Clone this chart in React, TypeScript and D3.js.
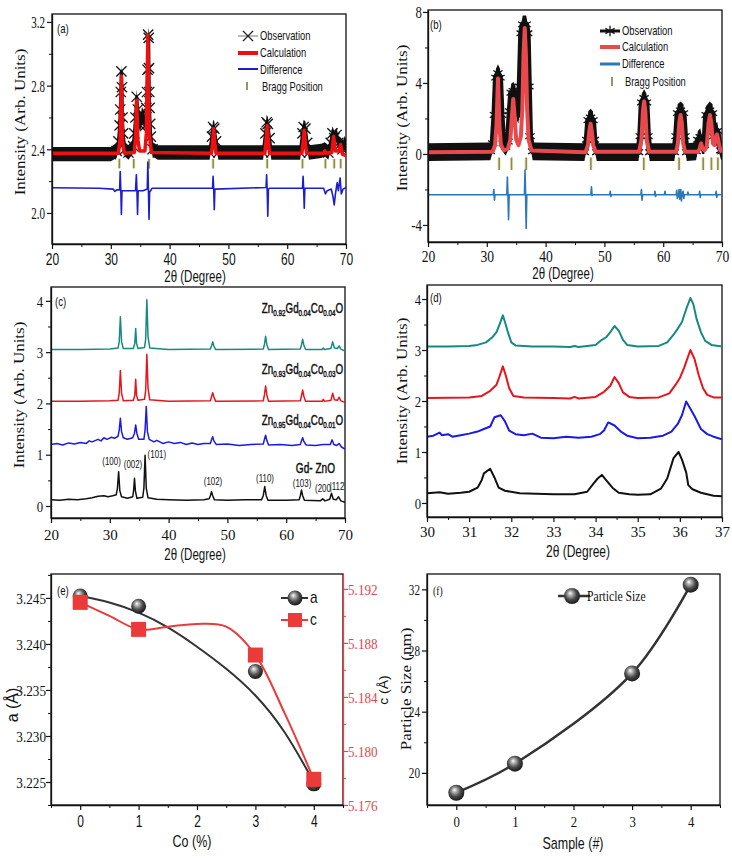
import * as d3 from 'd3'
import { useEffect, useRef } from 'react'

const SERIF = "'Liberation Serif', 'Times New Roman', Times, serif"
const SANS = "'Liberation Sans', Arial, Helvetica, sans-serif"

type P = [number, number]

// ---------- (a) Rietveld fit, Gd-ZnO ----------
const aObs: P[] = [[20,2.37],[30,2.37],[31.0,2.39],[31.3,2.45],[31.5,2.55],[31.6,2.65],[31.7,2.76],[31.8,2.89],[31.9,2.79],[32.0,2.6],[32.1,2.5],[32.4,2.4],[33,2.38],[33.8,2.42],[34.0,2.5],[34.2,2.6],[34.4,2.73],[34.6,2.65],[34.8,2.58],[35.0,2.55],[35.3,2.62],[35.6,2.6],[35.9,2.55],[36.05,2.66],[36.15,2.76],[36.25,2.9],[36.35,3.12],[36.45,3.1],[36.5,2.91],[36.55,2.76],[36.6,2.66],[36.7,2.56],[36.8,2.48],[37.1,2.4],[38,2.38],[46.8,2.38],[47.2,2.48],[47.4,2.54],[47.6,2.53],[47.9,2.45],[48.3,2.38],[55.9,2.38],[56.3,2.5],[56.5,2.57],[56.7,2.56],[57.0,2.47],[57.3,2.38],[62.2,2.38],[62.6,2.5],[62.8,2.54],[63.1,2.53],[63.4,2.44],[63.7,2.38],[65.8,2.39],[66.4,2.4],[67.0,2.38],[67.4,2.44],[67.7,2.5],[68.0,2.47],[68.4,2.49],[68.7,2.44],[69.0,2.43],[69.4,2.4],[69.8,2.44],[70,2.42]]
const aCalc: P[] = [[20,2.375],[31.3,2.375],[31.6,2.47],[31.8,2.86],[32.0,2.45],[32.3,2.375],[34.0,2.38],[34.2,2.47],[34.4,2.71],[34.6,2.46],[34.9,2.39],[35.8,2.39],[36.05,2.5],[36.3,3.12],[36.55,2.5],[36.9,2.38],[47.1,2.375],[47.3,2.43],[47.5,2.53],[47.7,2.43],[47.9,2.375],[56.2,2.375],[56.4,2.45],[56.6,2.55],[56.8,2.45],[57.0,2.375],[62.5,2.375],[62.7,2.44],[62.9,2.52],[63.1,2.44],[63.3,2.375],[66.2,2.375],[66.4,2.39],[66.6,2.375],[67.6,2.38],[67.9,2.48],[68.2,2.39],[68.8,2.39],[69.1,2.43],[69.4,2.37],[70,2.36]]
const aDiff: P[] = [[20,2.158],[28,2.155],[30.4,2.15],[30.7,2.135],[31.0,2.145],[31.5,2.145],[31.6,2.26],[31.7,2.15],[31.8,1.99],[31.9,2.14],[34.2,2.14],[34.35,2.24],[34.45,2.14],[34.55,1.99],[34.65,2.14],[35.5,2.14],[36.2,2.15],[36.3,2.32],[36.4,2.14],[36.5,1.96],[36.6,2.13],[37,2.155],[47.3,2.155],[47.4,2.23],[47.5,2.15],[47.6,2.02],[47.7,2.15],[56.4,2.16],[56.5,2.24],[56.6,2.14],[56.7,1.98],[56.8,2.15],[57,2.155],[62.6,2.155],[62.7,2.23],[62.8,2.15],[62.9,2.03],[63.0,2.155],[66.2,2.155],[66.5,2.12],[66.8,2.14],[67.5,2.15],[67.8,2.1],[68.0,2.05],[68.2,2.12],[68.5,2.19],[68.7,2.14],[69.0,2.22],[69.2,2.12],[69.5,2.15],[70,2.16]]
const aBragg = [31.45, 33.9, 36.5, 47.4, 56.6, 62.6, 66.5, 68.0, 69.1]

// ---------- (b) Rietveld fit, Co doped ----------
const bObs: P[] = [[20,0.1],[30.6,0.15],[31.0,0.6],[31.3,2.2],[31.55,4.3],[31.9,4.55],[32.25,4.3],[32.5,2.2],[32.8,0.6],[33.2,0.4],[33.6,0.7],[33.9,2.4],[34.15,3.45],[34.5,3.55],[34.85,3.4],[35.1,2.4],[35.4,2.2],[35.6,3.8],[35.85,6.8],[36.1,7.3],[36.7,7.3],[36.95,6.8],[37.15,3.8],[37.35,1.0],[37.8,0.15],[46.6,0.1],[47.0,0.8],[47.25,1.9],[47.65,2.05],[48.05,1.9],[48.3,0.8],[48.7,0.1],[55.8,0.1],[56.1,1.0],[56.35,2.9],[56.75,3.15],[57.15,2.9],[57.4,1.0],[57.7,0.1],[61.9,0.1],[62.2,1.0],[62.45,2.3],[62.95,2.45],[63.45,2.3],[63.7,1.0],[64.0,0.1],[65.6,0.15],[65.9,0.8],[66.3,0.95],[66.6,0.5],[67.0,0.5],[67.3,2.2],[67.9,2.45],[68.4,2.3],[68.6,1.0],[68.8,1.2],[69.2,1.3],[69.5,0.6],[69.8,0.2],[70,0.15]]
const bCalc: P[] = [[20,0.1],[31.0,0.12],[31.4,0.5],[31.65,1.6],[31.9,4.25],[32.15,1.6],[32.4,0.5],[32.9,0.2],[33.6,0.3],[34.0,0.8],[34.25,2.0],[34.5,3.1],[34.75,2.0],[35.0,0.8],[35.4,0.5],[35.8,1.0],[36.05,2.6],[36.25,5.6],[36.45,7.1],[36.65,5.6],[36.85,2.6],[37.1,0.8],[37.6,0.2],[46.8,0.1],[47.2,0.5],[47.45,1.3],[47.65,1.7],[47.85,1.3],[48.1,0.5],[48.5,0.12],[55.9,0.12],[56.3,0.8],[56.55,2.4],[56.75,2.95],[56.95,2.4],[57.2,0.8],[57.6,0.12],[62.2,0.12],[62.5,0.6],[62.75,1.8],[62.95,2.2],[63.15,1.8],[63.4,0.6],[63.7,0.12],[65.9,0.12],[66.2,0.3],[66.45,0.6],[66.7,0.3],[67.0,0.2],[67.4,0.4],[67.7,1.7],[67.95,2.2],[68.2,1.7],[68.45,0.6],[68.7,0.5],[68.95,0.9],[69.15,1.1],[69.35,0.8],[69.7,0.2],[70,0.1]]
const bDiff: P[] = [[20,-2.3],[31.1,-2.3],[31.2,-2.0],[31.3,-2.6],[31.4,-2.3],[33.4,-2.3],[33.5,-1.3],[33.6,-2.3],[33.7,-3.7],[33.8,-2.3],[36.4,-2.3],[36.5,-0.9],[36.6,-2.3],[36.7,-4.2],[36.8,-2.3],[47.7,-2.3],[47.8,-1.85],[47.9,-2.35],[48.0,-2.3],[50.9,-2.3],[51.0,-2.1],[51.1,-2.4],[51.2,-2.3],[56.2,-2.3],[56.3,-2.0],[56.4,-2.6],[56.5,-2.3],[58.5,-2.3],[58.6,-2.1],[58.7,-2.4],[58.8,-2.3],[60.2,-2.3],[60.3,-2.1],[60.4,-2.3],[62.2,-2.3],[62.3,-2.05],[62.4,-2.5],[62.6,-2.3],[62.7,-2.0],[62.8,-2.55],[62.9,-2.3],[63.0,-2.0],[63.1,-2.65],[63.2,-2.3],[63.4,-2.1],[63.5,-2.5],[63.6,-2.3],[64.1,-2.3],[64.2,-2.15],[64.3,-2.3],[66.1,-2.3],[66.2,-2.1],[66.3,-2.45],[66.4,-2.3],[68.9,-2.3],[69.0,-2.1],[69.1,-2.45],[69.2,-2.3],[70,-2.3]]
const bBragg = [32.1, 34.2, 36.7, 47.7, 56.7, 62.7, 66.8, 68.2, 69.3]

// ---------- (c) XRD patterns ----------
const cTeal: P[] = [[20,3.05],[25,3.05],[30,3.06],[31.4,3.08],[31.6,3.2],[31.8,3.69],[32.0,3.2],[32.3,3.07],[34.0,3.07],[34.25,3.17],[34.4,3.46],[34.55,3.17],[34.8,3.07],[35.9,3.09],[36.1,3.25],[36.3,4.02],[36.5,3.3],[36.8,3.08],[40,3.05],[47.1,3.06],[47.3,3.12],[47.5,3.2],[47.7,3.12],[48,3.05],[56.1,3.06],[56.3,3.15],[56.5,3.31],[56.7,3.15],[57,3.05],[62.4,3.06],[62.6,3.14],[62.8,3.25],[63,3.14],[63.3,3.05],[66.1,3.05],[66.3,3.08],[66.5,3.05],[67.6,3.07],[67.9,3.2],[68.2,3.08],[68.7,3.07],[69,3.12],[69.3,3.06],[70,3.02]]
const cRed: P[] = [[20,2.04],[25,2.04],[30,2.05],[31.4,2.06],[31.6,2.2],[31.8,2.64],[32.0,2.2],[32.3,2.05],[34.0,2.06],[34.25,2.16],[34.4,2.47],[34.55,2.16],[34.8,2.06],[35.9,2.08],[36.1,2.25],[36.3,2.96],[36.5,2.3],[36.8,2.07],[40,2.04],[47.1,2.05],[47.3,2.13],[47.5,2.21],[47.7,2.13],[48,2.04],[56.1,2.05],[56.3,2.17],[56.5,2.34],[56.7,2.17],[57,2.04],[62.4,2.05],[62.6,2.15],[62.8,2.26],[63,2.14],[63.3,2.04],[66.1,2.04],[66.3,2.08],[66.5,2.04],[67.6,2.06],[67.9,2.2],[68.2,2.07],[68.7,2.06],[69,2.12],[69.3,2.05],[70,2.02]]
const cBlue: P[] = [[20,1.2],[21,1.22],[22,1.19],[23,1.23],[24,1.21],[25,1.24],[26,1.22],[26.5,1.27],[27,1.25],[28,1.3],[28.5,1.27],[29,1.33],[29.5,1.3],[30.3,1.34],[30.8,1.32],[31.4,1.36],[31.6,1.48],[31.8,1.71],[32.0,1.45],[32.3,1.33],[33,1.3],[33.9,1.33],[34.2,1.42],[34.4,1.58],[34.6,1.42],[34.9,1.3],[35.8,1.3],[36.0,1.48],[36.2,1.94],[36.4,1.45],[36.7,1.3],[37.5,1.25],[38,1.28],[39,1.22],[40,1.25],[41,1.22],[42,1.24],[43,1.2],[44,1.23],[45,1.2],[46,1.22],[47.1,1.22],[47.3,1.29],[47.5,1.35],[47.7,1.27],[48.1,1.2],[50,1.21],[52,1.18],[54,1.2],[56.1,1.21],[56.3,1.3],[56.5,1.38],[56.7,1.28],[57,1.19],[59,1.2],[61,1.18],[62.4,1.2],[62.6,1.27],[62.8,1.33],[63,1.26],[63.4,1.19],[65,1.18],[66.3,1.2],[67.5,1.2],[67.8,1.29],[68.1,1.2],[68.6,1.18],[69,1.22],[69.4,1.15],[70,1.11]]
const cBlack: P[] = [[20,0.12],[21.5,0.11],[23,0.13],[24.5,0.12],[26,0.14],[27,0.16],[28,0.19],[29,0.2],[29.7,0.18],[30.5,0.2],[31.1,0.22],[31.3,0.35],[31.5,0.67],[31.7,0.3],[32.0,0.18],[33,0.15],[33.9,0.18],[34.05,0.3],[34.2,0.54],[34.35,0.3],[34.6,0.15],[35.6,0.17],[35.8,0.35],[36.0,0.99],[36.2,0.35],[36.5,0.16],[38,0.13],[40,0.12],[43,0.11],[46,0.12],[46.9,0.14],[47.1,0.2],[47.3,0.28],[47.5,0.2],[47.8,0.12],[50,0.11],[53,0.12],[55.8,0.12],[56.1,0.2],[56.35,0.38],[56.6,0.2],[56.9,0.11],[60,0.11],[62.2,0.12],[62.4,0.2],[62.6,0.31],[62.8,0.2],[63.1,0.11],[65.8,0.1],[66.2,0.14],[66.6,0.1],[67.4,0.13],[67.7,0.25],[68.0,0.13],[68.5,0.12],[68.9,0.18],[69.3,0.1],[70,0.07]]
const cSubs = [['0.92', '0.04', '0.04'], ['0.93', '0.04', '0.03'], ['0.95', '0.04', '0.01']]
const cSubY = [3.77, 2.58, 1.58]
const hkl: [string, number, number, string][] = [['(100)', 30.3, 0.8, 'middle'], ['(002)', 33.95, 0.74, 'middle'], ['(101)', 38.0, 0.94, 'middle'], ['(102)', 47.55, 0.41, 'middle'], ['(110)', 56.4, 0.47, 'middle'], ['(103)', 62.7, 0.37, 'middle'], ['(200', 67.6, 0.27, 'end'], ['|112', 67.4, 0.31, 'start']]

// ---------- (d) zoomed XRD ----------
const dTeal: P[] = [[30,3.07],[30.5,3.07],[31,3.08],[31.2,3.1],[31.4,3.15],[31.55,3.25],[31.65,3.35],[31.72,3.5],[31.8,3.68],[31.85,3.55],[31.92,3.35],[32.0,3.15],[32.1,3.09],[32.5,3.07],[33,3.07],[33.4,3.06],[33.5,3.08],[33.6,3.06],[34,3.1],[34.15,3.2],[34.25,3.25],[34.35,3.35],[34.45,3.47],[34.55,3.38],[34.65,3.2],[34.75,3.1],[35,3.07],[35.5,3.08],[35.7,3.15],[35.85,3.3],[35.95,3.42],[36.05,3.55],[36.15,3.8],[36.25,4.02],[36.32,3.9],[36.4,3.6],[36.5,3.35],[36.6,3.18],[36.75,3.1],[37,3.07]]
const dRed: P[] = [[30,2.06],[31,2.07],[31.3,2.1],[31.5,2.2],[31.65,2.32],[31.72,2.48],[31.8,2.68],[31.87,2.5],[31.95,2.25],[32.05,2.1],[32.3,2.07],[33,2.06],[33.4,2.05],[33.5,2.08],[33.6,2.05],[34,2.08],[34.2,2.18],[34.35,2.3],[34.45,2.47],[34.55,2.35],[34.65,2.17],[34.8,2.08],[35,2.06],[35.5,2.07],[35.75,2.15],[35.9,2.32],[36.0,2.45],[36.1,2.65],[36.25,3.0],[36.35,2.82],[36.45,2.5],[36.55,2.25],[36.65,2.12],[36.8,2.07],[37,2.07]]
const dBlue: P[] = [[30,1.3],[30.15,1.32],[30.3,1.38],[30.35,1.33],[30.5,1.35],[30.6,1.3],[30.8,1.33],[31,1.36],[31.2,1.4],[31.35,1.45],[31.5,1.5],[31.6,1.68],[31.75,1.72],[31.85,1.6],[31.95,1.42],[32.1,1.35],[32.3,1.33],[32.5,1.36],[32.7,1.28],[33,1.27],[33.3,1.3],[33.6,1.28],[33.9,1.3],[34.1,1.35],[34.2,1.42],[34.3,1.58],[34.45,1.52],[34.6,1.4],[34.75,1.32],[35,1.27],[35.3,1.28],[35.6,1.32],[35.8,1.4],[35.95,1.55],[36.05,1.72],[36.15,1.99],[36.25,1.85],[36.35,1.7],[36.5,1.45],[36.65,1.35],[36.8,1.3],[37,1.25]]
const dBlack: P[] = [[30,0.19],[30.3,0.21],[30.5,0.18],[30.8,0.2],[31,0.22],[31.2,0.3],[31.3,0.45],[31.35,0.58],[31.5,0.67],[31.6,0.5],[31.7,0.3],[31.85,0.24],[32.2,0.19],[32.6,0.18],[33,0.17],[33.5,0.17],[33.8,0.22],[33.95,0.38],[34.05,0.48],[34.15,0.55],[34.25,0.45],[34.4,0.3],[34.55,0.2],[34.8,0.17],[35,0.16],[35.3,0.17],[35.55,0.28],[35.7,0.48],[35.85,0.88],[35.97,1.0],[36.05,0.85],[36.15,0.6],[36.2,0.35],[36.3,0.27],[36.5,0.2],[36.8,0.14],[37,0.13]]

// ---------- (e) lattice parameters ----------
const coPct = [0, 1, 3, 4]
const latA = [3.2452, 3.2441, 3.237, 3.2248]
const latC = [5.191, 5.189, 5.1871, 5.1779]
const fitX = [0, 0.5, 1, 1.5, 2, 2.5, 3, 3.5, 4]
const latAFit = [3.2452, 3.2445, 3.2434, 3.2418, 3.2397, 3.2373, 3.2344, 3.2304, 3.2250]
const latCFit = [5.1910, 5.1900, 5.1890, 5.1892, 5.1894, 5.1892, 5.1871, 5.1828, 5.1779]

// ---------- (f) particle size ----------
const sampleNo = [0, 1, 3, 4]
const particle = [18.7, 20.6, 26.5, 32.3]

type Sel = d3.Selection<any, any, any, any>
interface TxtOpt { size?: number; font?: string; sx?: number; sy?: number; anchor?: string; rot?: number; fill?: string; weight?: string | number; bold?: boolean }

function txt(g: Sel, x: number, y: number, s: string, o: TxtOpt = {}) {
  const t = g.append('text')
    .attr('transform', `translate(${x},${y})${o.rot ? ` rotate(${o.rot})` : ''} scale(${o.sx ?? 1},${o.sy ?? 1})`)
    .attr('font-family', o.font ?? SANS)
    .attr('font-size', o.size ?? 12)
    .attr('text-anchor', o.anchor ?? 'start')
    .attr('fill', o.fill ?? '#111')
    .attr('font-weight', o.weight ?? 'normal')
    .text(s)
  if (o.bold) t.attr('stroke', o.fill ?? '#111').attr('stroke-width', 0.45)
  return t
}

interface AxOpt { font: string; size: number; sx?: number; off: number; color?: string; fmt?: (d: number) => string }

function axis(g: Sel, scale: any, side: 'left' | 'right' | 'bottom', at: number, major: number[], minor: number[], o: AxOpt) {
  const gen = side === 'left' ? d3.axisLeft : side === 'right' ? d3.axisRight : d3.axisBottom
  const tr = side === 'bottom' ? `translate(0,${at})` : `translate(${at},0)`
  const color = o.color ?? '#111'
  const mn = g.append('g').attr('transform', tr)
    .call(gen(scale).tickValues(minor).tickSize(3).tickSizeOuter(0).tickFormat(() => ''))
  mn.select('.domain').remove()
  mn.selectAll('line').attr('stroke', color)
  const mj = g.append('g').attr('transform', tr)
    .call(gen(scale).tickValues(major).tickSize(5).tickSizeOuter(0).tickFormat((d: any) => (o.fmt ? o.fmt(d) : String(d))))
  mj.select('.domain').attr('stroke', color).attr('stroke-width', 1.3)
  mj.selectAll('line').attr('stroke', color).attr('stroke-width', 1.2)
  const sx = o.sx ?? 1
  const t = side === 'bottom' ? `translate(0,${o.off})`
    : side === 'left' ? `translate(${-o.off},${o.size * 0.35})` : `translate(${o.off},${o.size * 0.35})`
  mj.selectAll('text').attr('x', null).attr('y', null).attr('dy', null)
    .attr('fill', color).attr('font-family', o.font).attr('font-size', o.size)
    .attr('transform', `${t} scale(${sx},1)`)
}

function frame(g: Sel, defs: Sel, id: string, x: any, y: any) {
  const [x0, x1] = x.range()
  const [y0, y1] = y.range()
  g.append('rect').attr('x', x0).attr('y', y1).attr('width', x1 - x0).attr('height', y0 - y1)
    .attr('fill', 'none').attr('stroke', '#111').attr('stroke-width', 1.3)
  defs.append('clipPath').attr('id', id).append('rect')
    .attr('x', x0).attr('y', y1).attr('width', x1 - x0).attr('height', y0 - y1)
  return g.append('g').attr('clip-path', `url(#${id})`)
}

function pathLine(g: Sel, x: any, y: any, data: P[], color: string, w: number) {
  const line = d3.line<P>().x(d => x(d[0])).y(d => y(d[1]))
  return g.append('path').attr('d', line(data)).attr('fill', 'none').attr('stroke', color)
    .attr('stroke-width', w).attr('stroke-linejoin', 'round')
}

// thick scatter band of the observed points (noise envelope around the observed profile)
function obsBand(g: Sel, x: any, y: any, data: P[], half: number) {
  const area = d3.area<P>().x(d => x(d[0])).y0(d => y(d[1] - half)).y1(d => y(d[1] + half))
  g.append('path').attr('d', area(data)).attr('fill', '#111')
}

function xrdTitle(g: Sel, x: number, y: number, sx: number) {
  txt(g, x, y, '2θ (Degree)', { size: 16, sx, anchor: 'middle' })
}

export default function App() {
  const ref = useRef<SVGSVGElement>(null)

  useEffect(() => {
    document.body.style.margin = '0'
    const svg = d3.select(ref.current)
    svg.selectAll('*').remove()
    svg.append('rect').attr('width', 732).attr('height', 859).attr('fill', '#fff')
    const defs = svg.append('defs')
    const grad = defs.append('radialGradient').attr('id', 'sph')
      .attr('cx', '45%').attr('cy', '42%').attr('r', '60%').attr('fx', '38%').attr('fy', '32%')
    grad.append('stop').attr('offset', '0%').attr('stop-color', '#ffffff')
    grad.append('stop').attr('offset', '22%').attr('stop-color', '#b5b5b5')
    grad.append('stop').attr('offset', '60%').attr('stop-color', '#4a4a4a')
    grad.append('stop').attr('offset', '100%').attr('stop-color', '#151515')

    const times = d3.symbol(d3.symbolTimes, 70)()
    const aster = d3.symbol(d3.symbolAsterisk, 80)()
    const braggCol = '#8a8a58'

    // ===== (a) =====
    {
      const g = svg.append('g')
      const x = d3.scaleLinear().domain([20, 70]).range([52, 346])
      const y = d3.scaleLinear().domain([1.805, 3.25]).range([244, 14])
      const c = frame(g, defs, 'clipA', x, y)
      obsBand(c, x, y, aObs, 0.045)
      pathLine(c, x, y, aObs, '#111', 3)
      c.selectAll('.mk').data(aObs).join('path')
        .attr('transform', d => `translate(${x(d[0])},${y(d[1])})`).attr('d', times)
        .attr('fill', 'none').attr('stroke', '#111').attr('stroke-width', 1.3)
      pathLine(c, x, y, aCalc, '#ee1010', 3.5)
      c.selectAll('.bg').data(aBragg).join('line')
        .attr('x1', d => x(d)).attr('x2', d => x(d)).attr('y1', y(2.34)).attr('y2', y(2.28))
        .attr('stroke', '#f2ecc0').attr('stroke-width', 3.5)
      c.selectAll('.bt').data(aBragg).join('line')
        .attr('x1', d => x(d)).attr('x2', d => x(d)).attr('y1', y(2.34)).attr('y2', y(2.28))
        .attr('stroke', braggCol).attr('stroke-width', 1.6)
      pathLine(c, x, y, aDiff, '#1c1cd0', 1.6)
      axis(g, y, 'left', 52, [2.0, 2.4, 2.8, 3.2], [2.2, 2.6, 3.0], { font: SERIF, size: 17, sx: 0.65, off: 7, fmt: d => d.toFixed(1) })
      axis(g, x, 'bottom', 244, [20, 30, 40, 50, 60, 70], [25, 35, 45, 55, 65], { font: SANS, size: 16, sx: 0.75, off: 21 })
      txt(g, 25, 122, 'Intensity (Arb. Units)', { font: SERIF, size: 17, rot: -90, sy: 0.8, anchor: 'middle' })
      xrdTitle(g, 195, 282, 0.72)
      txt(g, 57, 33, '(a)', { size: 12, sx: 0.8 })
      // legend
      const lg = g.append('g')
      lg.append('line').attr('x1', 238).attr('x2', 258).attr('y1', 36).attr('y2', 36).attr('stroke', '#777').attr('stroke-width', 1)
      lg.append('path').attr('transform', 'translate(248,36)').attr('d', times).attr('fill', 'none').attr('stroke', '#111').attr('stroke-width', 1.3)
      lg.append('line').attr('x1', 238).attr('x2', 258).attr('y1', 53).attr('y2', 53).attr('stroke', '#ee1010').attr('stroke-width', 4)
      lg.append('line').attr('x1', 238).attr('x2', 258).attr('y1', 69).attr('y2', 69).attr('stroke', '#1c1cd0').attr('stroke-width', 2)
      lg.append('line').attr('x1', 247).attr('x2', 247).attr('y1', 82).attr('y2', 90).attr('stroke', braggCol).attr('stroke-width', 1.8)
      txt(lg, 260, 40, 'Observation', { size: 13, sx: 0.72 })
      txt(lg, 260, 57, 'Calculation', { size: 13, sx: 0.72 })
      txt(lg, 260, 74, 'Difference', { size: 13, sx: 0.72 })
      txt(lg, 262, 91, 'Bragg Position', { size: 13, sx: 0.72 })
    }

    // ===== (b) =====
    {
      const g = svg.append('g')
      const x = d3.scaleLinear().domain([20, 70]).range([428, 722])
      const y = d3.scaleLinear().domain([-4.96, 8.11]).range([242, 10])
      const c = frame(g, defs, 'clipB', x, y)
      obsBand(c, x, y, bObs, 0.5)
      pathLine(c, x, y, bObs, '#111', 6)
      c.selectAll('.mk').data(bObs).join('path')
        .attr('transform', d => `translate(${x(d[0])},${y(d[1])})`).attr('d', aster)
        .attr('fill', 'none').attr('stroke', '#111').attr('stroke-width', 1.3)
      pathLine(c, x, y, bCalc, '#e8494c', 4)
      c.selectAll('.bg').data(bBragg).join('line')
        .attr('x1', d => x(d)).attr('x2', d => x(d)).attr('y1', y(-0.2)).attr('y2', y(-0.9))
        .attr('stroke', '#f2ecc0').attr('stroke-width', 3.5)
      c.selectAll('.bt').data(bBragg).join('line')
        .attr('x1', d => x(d)).attr('x2', d => x(d)).attr('y1', y(-0.2)).attr('y2', y(-0.9))
        .attr('stroke', braggCol).attr('stroke-width', 1.6)
      pathLine(c, x, y, bDiff, '#2a78b8', 1.6)
      axis(g, y, 'left', 428, [-4, 0, 4, 8], [-2, 2, 6], { font: SERIF, size: 16, sx: 0.8, off: 6, fmt: d => (d < 0 ? '-' + Math.abs(d) : String(d)) })
      axis(g, x, 'bottom', 242, [20, 30, 40, 50, 60, 70], [25, 35, 45, 55, 65], { font: SERIF, size: 16, sx: 0.85, off: 20 })
      txt(g, 407, 118, 'Intensity (Arb. Units)', { font: SERIF, size: 17, rot: -90, sy: 0.8, anchor: 'middle' })
      xrdTitle(g, 563, 279, 0.72)
      txt(g, 430, 29, '(b)', { size: 12, sx: 0.8 })
      const lg = g.append('g')
      lg.append('line').attr('x1', 600).attr('x2', 620).attr('y1', 31).attr('y2', 31).attr('stroke', '#111').attr('stroke-width', 3)
      lg.append('path').attr('transform', 'translate(610,31)').attr('d', aster).attr('fill', 'none').attr('stroke', '#111').attr('stroke-width', 1.3)
      lg.append('line').attr('x1', 600).attr('x2', 620).attr('y1', 47).attr('y2', 47).attr('stroke', '#e8494c').attr('stroke-width', 4)
      lg.append('line').attr('x1', 600).attr('x2', 620).attr('y1', 64).attr('y2', 64).attr('stroke', '#2a78b8').attr('stroke-width', 3)
      lg.append('line').attr('x1', 612).attr('x2', 612).attr('y1', 77).attr('y2', 86).attr('stroke', braggCol).attr('stroke-width', 1.8)
      txt(lg, 622, 35, 'Observation', { size: 13, sx: 0.72 })
      txt(lg, 622, 51, 'Calculation', { size: 13, sx: 0.72 })
      txt(lg, 622, 68, 'Difference', { size: 13, sx: 0.72 })
      txt(lg, 625, 86, 'Bragg Position', { size: 13, sx: 0.72 })
    }

    // ===== (c) =====
    {
      const g = svg.append('g')
      const x = d3.scaleLinear().domain([20, 70]).range([51, 345])
      const y = d3.scaleLinear().domain([-0.234, 4.27]).range([518, 287])
      const c = frame(g, defs, 'clipC', x, y)
      pathLine(c, x, y, cBlack, '#111', 1.5)
      pathLine(c, x, y, cBlue, '#1a1ae6', 1.5)
      pathLine(c, x, y, cRed, '#e8141c', 1.5)
      pathLine(c, x, y, cTeal, '#168a80', 1.5)
      axis(g, y, 'left', 51, [0, 1, 2, 3, 4], [0.5, 1.5, 2.5, 3.5], { font: SERIF, size: 15, sx: 0.85, off: 8 })
      axis(g, x, 'bottom', 518, [20, 30, 40, 50, 60, 70], [25, 35, 45, 55, 65], { font: SERIF, size: 15, sx: 1, off: 22 })
      txt(g, 24, 395, 'Intensity (Arb. Units)', { font: SERIF, size: 17, rot: -90, sy: 0.8, anchor: 'middle' })
      xrdTitle(g, 195, 560, 0.72)
      txt(g, 55, 306, '(c)', { size: 12, sx: 0.8 })
      cSubs.forEach((s, i) => {
        const t = g.append('text')
          .attr('transform', `translate(${x(69.7)},${y(cSubY[i])}) scale(0.7,1)`)
          .attr('font-family', SANS).attr('font-size', 14)
          .attr('stroke', '#111').attr('stroke-width', 0.45)
          .attr('text-anchor', 'end').attr('fill', '#111')
        const parts = ['Zn', s[0], 'Gd', s[1], 'Co', s[2], 'O']
        parts.forEach((p, k) => {
          const sub = k % 2 === 1
          t.append('tspan').attr('font-size', sub ? 9 : 14)
            .attr('dy', k === 0 ? 0 : sub ? 3 : -3).text(p)
        })
      })
      txt(g, x(68.3), y(0.64), 'Gd- ZnO', { size: 14, sx: 0.72, anchor: 'end', bold: true })
      hkl.forEach(([s, hx, hy, anc]) => txt(g, x(hx), y(hy), s, { size: 11, sx: 0.72, anchor: anc }))
    }

    // ===== (d) =====
    {
      const g = svg.append('g')
      const x = d3.scaleLinear().domain([30, 37]).range([427, 722])
      const y = d3.scaleLinear().domain([-0.275, 4.275]).range([517, 285])
      const c = frame(g, defs, 'clipD', x, y)
      pathLine(c, x, y, dBlack, '#111', 2)
      pathLine(c, x, y, dBlue, '#1a1ae6', 2)
      pathLine(c, x, y, dRed, '#e8141c', 2)
      pathLine(c, x, y, dTeal, '#168a80', 2)
      axis(g, y, 'left', 427, [0, 1, 2, 3, 4], [0.5, 1.5, 2.5, 3.5], { font: SERIF, size: 15, sx: 0.85, off: 6 })
      axis(g, x, 'bottom', 517, [30, 31, 32, 33, 34, 35, 36, 37], [30.5, 31.5, 32.5, 33.5, 34.5, 35.5, 36.5], { font: SERIF, size: 15, sx: 1, off: 20 })
      txt(g, 407, 391, 'Intensity (Arb. Units)', { font: SERIF, size: 17, rot: -90, sy: 0.8, anchor: 'middle' })
      xrdTitle(g, 578, 557, 0.75)
      txt(g, 430, 302, '(d)', { size: 12, sx: 0.8 })
    }

    // ===== (e) =====
    {
      const g = svg.append('g')
      const x = d3.scaleLinear().domain([-0.5, 4.5]).range([51, 343])
      const yl = d3.scaleLinear().domain([3.2225, 3.2476]).range([805, 574])
      const yr = d3.scaleLinear().domain([5.176, 5.1931]).range([805, 574])
      const c = frame(g, defs, 'clipE', x, yl)
      const redC = '#ea3a3a'
      const lineA = d3.line<number>().x((_, i) => x(fitX[i])).y(d => yl(d)).curve(d3.curveNatural)
      const lineC = d3.line<number>().x((_, i) => x(fitX[i])).y(d => yr(d)).curve(d3.curveCatmullRom)
      c.append('path').attr('d', lineA(latAFit)).attr('fill', 'none').attr('stroke', '#333').attr('stroke-width', 2)
      c.append('path').attr('d', lineC(latCFit)).attr('fill', 'none').attr('stroke', redC).attr('stroke-width', 2)
      g.selectAll('.sa').data(latA).join('circle')
        .attr('cx', (_, i) => x(coPct[i])).attr('cy', d => yl(d)).attr('r', 7.5).attr('fill', 'url(#sph)')
      g.selectAll('.sc').data(latC).join('rect')
        .attr('x', (_, i) => x(coPct[i]) - 7.5).attr('y', d => yr(d) - 7.5).attr('width', 15).attr('height', 15).attr('fill', redC)
      axis(g, yl, 'left', 51, [3.225, 3.23, 3.235, 3.24, 3.245], [3.2225, 3.2275, 3.2325, 3.2375, 3.2425, 3.2475], { font: SERIF, size: 15, sx: 0.88, off: 5, fmt: d => d.toFixed(3) })
      axis(g, yr, 'right', 343, [5.176, 5.18, 5.184, 5.188, 5.192], [5.178, 5.182, 5.186, 5.19], { font: SERIF, size: 15, sx: 0.88, off: 5, color: '#e0474c', fmt: d => d.toFixed(3) })
      axis(g, x, 'bottom', 805, [0, 1, 2, 3, 4], [-0.5, 0.5, 1.5, 2.5, 3.5, 4.5], { font: SANS, size: 16, sx: 0.75, off: 22 })
      txt(g, 18, 705, 'a (Å)', { size: 16, rot: -90, anchor: 'middle' })
      txt(g, 388, 690, 'c (Å)', { size: 14, rot: -90, anchor: 'middle', sy: 0.85 })
      txt(g, 192, 847, 'Co (%)', { size: 16, sx: 0.78, anchor: 'middle' })
      txt(g, 57, 595, '(e)', { size: 12, sx: 0.8 })
      g.append('line').attr('x1', 281).attr('x2', 308).attr('y1', 598).attr('y2', 598).attr('stroke', '#333').attr('stroke-width', 2)
      g.append('circle').attr('cx', 295).attr('cy', 598).attr('r', 7.5).attr('fill', 'url(#sph)')
      g.append('line').attr('x1', 281).attr('x2', 308).attr('y1', 620).attr('y2', 620).attr('stroke', redC).attr('stroke-width', 2)
      g.append('rect').attr('x', 288).attr('y', 613).attr('width', 14).attr('height', 14).attr('fill', redC)
      txt(g, 310, 603, 'a', { size: 16, sx: 0.85 })
      txt(g, 310, 625, 'c', { size: 16, sx: 0.85 })
    }

    // ===== (f) =====
    {
      const g = svg.append('g')
      const x = d3.scaleLinear().domain([-0.5, 4.5]).range([427, 720])
      const y = d3.scaleLinear().domain([17.9, 33]).range([805, 574])
      const c = frame(g, defs, 'clipF', x, y)
      const line = d3.line<number>().x((_, i) => x(sampleNo[i])).y(d => y(d)).curve(d3.curveCatmullRom)
      c.append('path').attr('d', line(particle)).attr('fill', 'none').attr('stroke', '#333').attr('stroke-width', 2.5)
      g.selectAll('.sp').data(particle).join('circle')
        .attr('cx', (_, i) => x(sampleNo[i])).attr('cy', d => y(d)).attr('r', 8).attr('fill', 'url(#sph)')
      axis(g, y, 'left', 427, [20, 24, 28, 32], [22, 26, 30], { font: SERIF, size: 14, sx: 0.8, off: 7 })
      axis(g, x, 'bottom', 805, [0, 1, 2, 3, 4], [-0.5, 0.5, 1.5, 2.5, 3.5, 4.5], { font: SERIF, size: 15, sx: 0.85, off: 22 })
      txt(g, 411, 689, 'Particle Size (nm)', { font: SERIF, size: 17, rot: -90, sy: 0.8, anchor: 'middle' })
      txt(g, 573, 849, 'Sample (#)', { size: 16, sx: 0.78, anchor: 'middle' })
      txt(g, 433, 595, '(f)', { font: SERIF, size: 12, sx: 0.8 })
      g.append('line').attr('x1', 558).attr('x2', 590).attr('y1', 596).attr('y2', 596).attr('stroke', '#333').attr('stroke-width', 2.5)
      g.append('circle').attr('cx', 572).attr('cy', 596).attr('r', 8).attr('fill', 'url(#sph)')
      txt(g, 587, 601, 'Particle Size', { font: SERIF, size: 15, sx: 0.78 })
    }
  }, [])

  return <svg ref={ref} width={732} height={859} style={{ display: 'block' }} />
}
